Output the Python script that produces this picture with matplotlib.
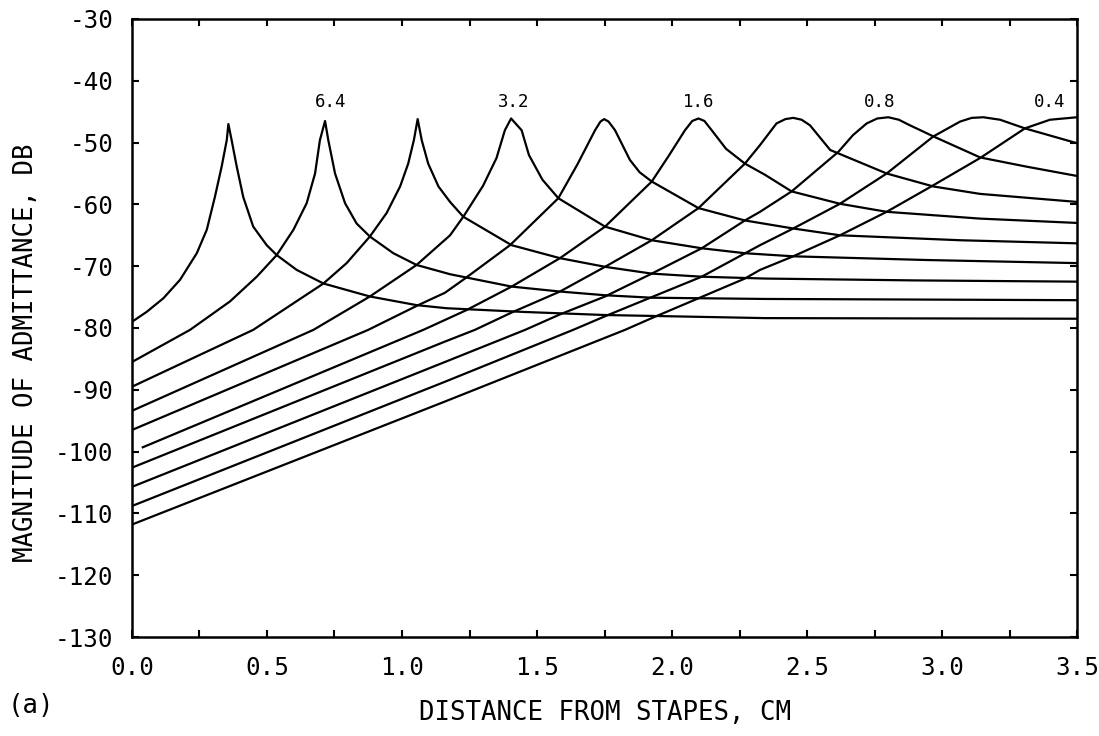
import matplotlib
matplotlib.use("Agg")
import matplotlib.pyplot as plt
from matplotlib.ticker import MultipleLocator, FormatStrFormatter

plt.rcParams['font.family'] = ['DejaVu Sans Mono']
plt.rcParams['axes.unicode_minus'] = False

# courbes (x en cm, y en dB), de la base vers l'apex
c1_x = [0.0, 0.054, 0.116, 0.178, 0.240, 0.277, 0.307, 0.332, 0.351, 0.357, 0.369, 0.388, 0.412, 0.449, 0.499, 0.536, 0.610, 0.709, 0.881, 1.054, 1.165, 1.45, 1.752, 2.344, 3.5]
c1_y = [-79.0, -77.4, -75.2, -72.2, -67.9, -64.1, -58.8, -53.9, -49.6, -47.0, -49.6, -53.9, -58.8, -63.6, -66.6, -68.2, -70.6, -72.8, -74.9, -76.3, -76.8, -77.4, -77.9, -78.4, -78.5]

c2_x = [0.0, 0.215, 0.363, 0.462, 0.536, 0.598, 0.647, 0.678, 0.696, 0.715, 0.727, 0.752, 0.789, 0.832, 0.881, 0.968, 1.054, 1.178, 1.406, 1.585, 1.752, 1.925, 2.344, 3.5]
c2_y = [-85.5, -80.3, -75.7, -71.7, -68.2, -64.1, -59.8, -55.0, -49.6, -46.5, -49.6, -55.0, -59.8, -63.1, -65.2, -67.9, -69.8, -71.3, -73.3, -74.1, -74.7, -75.1, -75.3, -75.5]

c3_x = [0.0, 0.449, 0.709, 0.795, 0.881, 0.943, 0.993, 1.023, 1.044, 1.058, 1.073, 1.097, 1.135, 1.178, 1.227, 1.406, 1.585, 1.752, 1.925, 2.110, 2.344, 2.9, 3.5]
c3_y = [-89.5, -80.3, -72.8, -69.5, -65.2, -61.4, -57.1, -53.4, -49.6, -46.2, -49.6, -53.4, -57.1, -59.6, -62.0, -66.6, -68.7, -70.1, -71.2, -71.7, -72.0, -72.3, -72.5]

c4_x = [0.0, 0.672, 0.881, 1.054, 1.178, 1.227, 1.30, 1.35, 1.381, 1.404, 1.443, 1.47, 1.52, 1.579, 1.752, 1.925, 2.110, 2.270, 2.449, 2.943, 3.5]
c4_y = [-93.4, -80.3, -74.9, -69.8, -65.0, -62.0, -57.0, -52.5, -48.0, -46.1, -48.0, -52.0, -56.0, -59.0, -63.6, -65.8, -67.1, -67.9, -68.4, -69.0, -69.5]

c5_x = [0.0, 0.875, 1.06, 1.159, 1.233, 1.4, 1.579, 1.65, 1.715, 1.735, 1.749, 1.765, 1.789, 1.844, 1.88, 1.925, 2.098, 2.270, 2.449, 2.622, 3.067, 3.5]
c5_y = [-96.5, -80.3, -76.3, -74.3, -72.0, -66.6, -59.0, -53.5, -48.0, -46.6, -46.2, -46.6, -48.0, -52.8, -54.8, -56.3, -60.6, -62.6, -63.9, -65.0, -65.8, -66.3]

c6_x = [0.04, 1.079, 1.159, 1.239, 1.406, 1.585, 1.752, 1.925, 1.99, 2.048, 2.075, 2.098, 2.12, 2.147, 2.2, 2.270, 2.344, 2.443, 2.622, 2.795, 3.141, 3.5]
c6_y = [-99.3, -80.3, -78.7, -77.1, -73.3, -68.7, -63.6, -56.3, -52.0, -48.0, -46.5, -46.1, -46.5, -48.0, -51.0, -53.4, -55.2, -57.9, -59.9, -61.2, -62.3, -63.0]

c7_x = [0.0, 1.159, 1.270, 1.406, 1.585, 1.752, 1.925, 2.098, 2.270, 2.326, 2.387, 2.42, 2.449, 2.48, 2.511, 2.586, 2.795, 2.968, 3.141, 3.5]
c7_y = [-102.6, -82.2, -80.3, -77.5, -74.1, -70.1, -65.8, -60.6, -53.4, -50.4, -46.9, -46.2, -46.0, -46.3, -47.2, -51.2, -55.0, -57.1, -58.3, -59.6]

c8_x = [0.0, 1.159, 1.456, 1.585, 1.752, 1.925, 2.110, 2.270, 2.326, 2.443, 2.616, 2.67, 2.721, 2.76, 2.801, 2.84, 2.881, 2.92, 2.968, 3.141, 3.314, 3.5]
c8_y = [-105.7, -85.5, -80.3, -77.8, -74.9, -71.2, -67.1, -62.6, -61.2, -57.9, -51.5, -48.8, -46.9, -46.1, -45.9, -46.3, -47.2, -48.0, -49.0, -52.4, -53.9, -55.4]

c9_x = [0.0, 1.159, 1.634, 1.752, 1.925, 2.110, 2.326, 2.449, 2.622, 2.795, 2.968, 3.067, 3.11, 3.153, 3.215, 3.307, 3.5]
c9_y = [-108.8, -88.7, -80.3, -78.1, -75.0, -71.7, -66.6, -63.9, -59.9, -55.0, -49.0, -46.6, -46.0, -45.9, -46.3, -47.7, -50.1]

c10_x = [0.0, 1.159, 1.826, 1.925, 2.270, 2.326, 2.449, 2.622, 2.795, 2.968, 3.141, 3.307, 3.4, 3.5]
c10_y = [-111.8, -91.9, -80.3, -78.4, -72.0, -70.6, -68.4, -65.0, -61.2, -56.9, -52.5, -47.7, -46.3, -45.9]

courbes = [(c1_x, c1_y), (c2_x, c2_y), (c3_x, c3_y), (c4_x, c4_y), (c5_x, c5_y),
           (c6_x, c6_y), (c7_x, c7_y), (c8_x, c8_y), (c9_x, c9_y), (c10_x, c10_y)]

# étiquettes de fréquence au-dessus des pics
freq_labels = ["6.4", "3.2", "1.6", "0.8", "0.4"]
freq_x = [0.736, 1.412, 2.098, 2.770, 3.40]
freq_y = -43.5

fig = plt.figure(figsize=(10.99, 7.36), dpi=100)
ax = fig.add_axes([0.1201, 0.1345, 0.8599, 0.8397])

for xs, ys in courbes:
    ax.plot(xs, ys, color='black', linewidth=1.6, solid_joinstyle='round')

for lab, xl in zip(freq_labels, freq_x):
    ax.text(xl, freq_y, lab, ha='center', va='center', fontsize=12.5)

ax.set_xlim(0, 3.5)
ax.set_ylim(-130, -30)
ax.xaxis.set_major_locator(MultipleLocator(0.5))
ax.xaxis.set_minor_locator(MultipleLocator(0.25))
ax.yaxis.set_major_locator(MultipleLocator(10))
ax.xaxis.set_major_formatter(FormatStrFormatter('%.1f'))
ax.tick_params(which='both', direction='in', length=5, width=1.5,
               top=True, right=True)
ax.tick_params(axis='x', which='major', labelsize=17.5, pad=14)
ax.tick_params(axis='y', which='major', labelsize=17.5, pad=13.5)
for s in ax.spines.values():
    s.set_linewidth(1.8)

ax.set_xlabel('DISTANCE FROM STAPES, CM', fontsize=18.5, labelpad=14)
ax.set_ylabel('MAGNITUDE OF ADMITTANCE, DB', fontsize=18.5)
ax.yaxis.set_label_coords(-0.098, 0.46)
fig.text(0.028, 0.041, '(a)', fontsize=18.5, ha='center', va='center')

fig.savefig('out.png', dpi=100)
